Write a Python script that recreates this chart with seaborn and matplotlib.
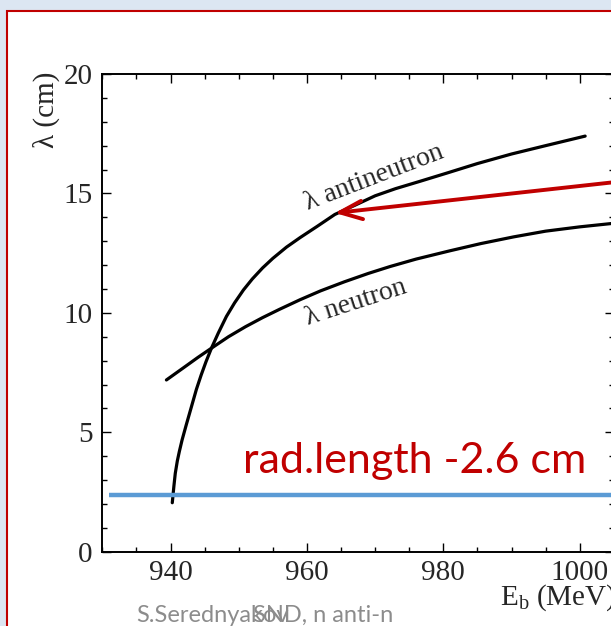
import numpy as np
import pandas as pd
import matplotlib
matplotlib.use("Agg")
import matplotlib.pyplot as plt
import seaborn as sns
from matplotlib.patches import Rectangle
from matplotlib.ticker import MultipleLocator

# curve values
anti_e = [940.26, 940.5, 940.7, 941.0, 941.3, 941.7, 942.3, 943.1, 943.8, 944.5, 945.2, 946.0,
          947.0, 948.2, 949.4, 950.7, 952.0, 953.5, 955.0, 957.0, 959.0, 961.5, 964.1, 967.0,
          970.0, 973.0, 976.5, 980.5, 985.0, 990.0, 995.0, 1000.8]
anti_lam = [2.05, 2.75, 3.28, 3.8, 4.2, 4.68, 5.3, 6.1, 6.8, 7.4, 7.95, 8.52,
            9.15, 9.85, 10.42, 10.96, 11.42, 11.88, 12.28, 12.75, 13.15, 13.62, 14.12, 14.5,
            14.9, 15.2, 15.5, 15.85, 16.25, 16.65, 17.0, 17.4]
neut_e = [939.4, 942.0, 944.0, 946.0, 948.5, 951.0, 953.5, 956.0, 959.0, 962.0, 965.5, 969.0,
          972.2, 976.0, 981.0, 985.5, 990.3, 995.0, 1000.0, 1005.0]
neut_lam = [7.19, 7.72, 8.13, 8.52, 9.0, 9.42, 9.8, 10.15, 10.55, 10.92, 11.3, 11.65,
            11.94, 12.25, 12.6, 12.9, 13.18, 13.42, 13.6, 13.75]
rad_length = 2.37
rad_start = 931.0

anti = pd.DataFrame({"E": anti_e, "lam": anti_lam})
neut = pd.DataFrame({"E": neut_e, "lam": neut_lam})

sns.set_style("ticks")
plt.rcParams["font.family"] = ["Liberation Serif", "DejaVu Serif"]
plt.rcParams["mathtext.fontset"] = "custom"
plt.rcParams["mathtext.rm"] = "Liberation Serif"
plt.rcParams["mathtext.it"] = "Liberation Serif:italic"

W, H = 611, 626
fig = plt.figure(figsize=(W / 100, H / 100), dpi=100, facecolor="#dce6f2")
fig.add_artist(Rectangle((7 / W, -0.1), 1.2, (H - 11) / H + 0.1, transform=fig.transFigure,
                         facecolor="white", edgecolor="#c00000", lw=1.5, zorder=-1))

ax = fig.add_axes([102.3 / W, (H - 551.7) / H, (613.8 - 102.3) / W, (551.7 - 74) / H])
ax.set_facecolor("white")

sns.lineplot(data=anti, x="E", y="lam", ax=ax, color="black", lw=2.3, estimator=None, sort=False)
sns.lineplot(data=neut, x="E", y="lam", ax=ax, color="black", lw=2.3, estimator=None, sort=False)
ax.plot([rad_start, 1010], [rad_length, rad_length], color="#5b9bd5", lw=3.2, solid_capstyle="butt")

ax.set_xlim(930, 1005)
ax.set_ylim(0, 20)
ax.xaxis.set_major_locator(MultipleLocator(20))
ax.xaxis.set_minor_locator(MultipleLocator(5))
ax.yaxis.set_major_locator(MultipleLocator(5))
ax.yaxis.set_minor_locator(MultipleLocator(1))
ax.tick_params(which="both", direction="in", top=True, right=True, width=1.0, color="black")
ax.tick_params(which="major", length=6.5, labelsize=21)
ax.tick_params(axis="x", which="major", pad=6)
ax.tick_params(axis="y", which="major", pad=7)
ax.tick_params(which="minor", length=3.3)
for s in ax.spines.values():
    s.set_linewidth(1.4)
    s.set_color("black")
ax.set_xlabel("")
ax.set_ylabel("")

ax.text(969.8, 15.66, "λ antineutron", fontsize=20, rotation=21, ha="center", va="center",
        rotation_mode="anchor")
ax.text(967.2, 10.43, "λ neutron", fontsize=20, rotation=18, ha="center", va="center",
        rotation_mode="anchor")

ax.text(950.6, 3.30, "rad.length -2.6 cm", fontsize=31, color="#c00000", va="baseline",
        family=["Lato", "DejaVu Sans"])

ax.annotate("", xy=(964.1, 14.18), xytext=(1006, 15.5), annotation_clip=False,
            arrowprops=dict(arrowstyle="->,head_length=0.8,head_width=0.33", color="#c00000",
                            lw=2.8, mutation_scale=20, shrinkA=0, shrinkB=0))

fig.text(46 / W, 1 - 110 / H, "λ (cm)", fontsize=21, rotation=90, ha="center", va="center")
fig.text(616 / W, 1 - 598 / H, r"E$_{\mathrm{b}}$ (MeV)", fontsize=21, ha="right", va="center")

fig.text(136 / W, 1 - 615 / H, "S.Serednyakov", fontsize=17, color="#8c8c8c", va="center",
         family=["Lato", "DejaVu Sans"])
fig.text(253 / W, 1 - 615 / H, "SND, n anti-n", fontsize=17, color="#8c8c8c", va="center",
         family=["Lato", "DejaVu Sans"])

fig.savefig("out.png", dpi=100)
